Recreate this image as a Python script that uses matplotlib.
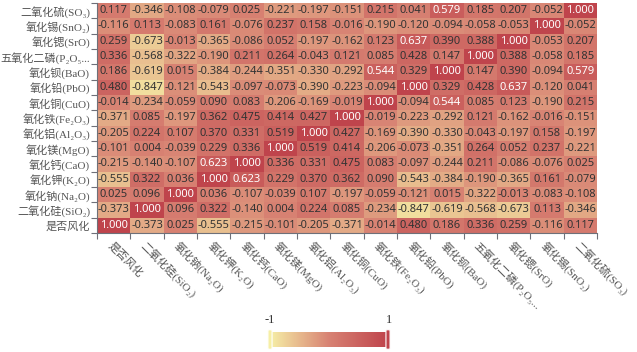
import numpy as np
import matplotlib
matplotlib.use("Agg")
import matplotlib.pyplot as plt
from matplotlib.colors import LinearSegmentedColormap
from matplotlib.patches import FancyBboxPatch

# row labels, bottom to top
row_labels = ['是否风化', '二氧化硅(SiO₂)', '氧化钠(Na₂O)', '氧化钾(K₂O)', '氧化钙(CaO)',
              '氧化镁(MgO)', '氧化铝(Al₂O₃)', '氧化铁(Fe₂O₃)', '氧化铜(CuO)', '氧化铅(PbO)',
              '氧化钡(BaO)', '五氧化二磷(P₂O₅...', '氧化锶(SrO)', '氧化锡(SnO₂)', '二氧化硫(SO₃)']

# column labels, left to right
col_labels = ['是否风化', '二氧化硅(SiO₂)', '氧化钠(Na₂O)', '氧化钾(K₂O)', '氧化钙(CaO)',
              '氧化镁(MgO)', '氧化铝(Al₂O₃)', '氧化铜(CuO)', '氧化铁(Fe₂O₃)', '氧化铅(PbO)',
              '氧化钡(BaO)', '五氧化二磷(P₂O₅...', '氧化锶(SrO)', '氧化锡(SnO₂)', '二氧化硫(SO₃)']

# correlation values, rows bottom to top
values = [
    [1.000, -0.373, 0.025, -0.555, -0.215, -0.101, -0.205, -0.371, -0.014, 0.480, 0.186, 0.336, 0.259, -0.116, 0.117],
    [-0.373, 1.000, 0.096, 0.322, -0.140, 0.004, 0.224, 0.085, -0.234, -0.847, -0.619, -0.568, -0.673, 0.113, -0.346],
    [0.025, 0.096, 1.000, 0.036, -0.107, -0.039, 0.107, -0.197, -0.059, -0.121, 0.015, -0.322, -0.013, -0.083, -0.108],
    [-0.555, 0.322, 0.036, 1.000, 0.623, 0.229, 0.370, 0.362, 0.090, -0.543, -0.384, -0.190, -0.365, 0.161, -0.079],
    [-0.215, -0.140, -0.107, 0.623, 1.000, 0.336, 0.331, 0.475, 0.083, -0.097, -0.244, 0.211, -0.086, -0.076, 0.025],
    [-0.101, 0.004, -0.039, 0.229, 0.336, 1.000, 0.519, 0.414, -0.206, -0.073, -0.351, 0.264, 0.052, 0.237, -0.221],
    [-0.205, 0.224, 0.107, 0.370, 0.331, 0.519, 1.000, 0.427, -0.169, -0.390, -0.330, -0.043, -0.197, 0.158, -0.197],
    [-0.371, 0.085, -0.197, 0.362, 0.475, 0.414, 0.427, 1.000, -0.019, -0.223, -0.292, 0.121, -0.162, -0.016, -0.151],
    [-0.014, -0.234, -0.059, 0.090, 0.083, -0.206, -0.169, -0.019, 1.000, -0.094, 0.544, 0.085, 0.123, -0.190, 0.215],
    [0.480, -0.847, -0.121, -0.543, -0.097, -0.073, -0.390, -0.223, -0.094, 1.000, 0.329, 0.428, 0.637, -0.120, 0.041],
    [0.186, -0.619, 0.015, -0.384, -0.244, -0.351, -0.330, -0.292, 0.544, 0.329, 1.000, 0.147, 0.390, -0.094, 0.579],
    [0.336, -0.568, -0.322, -0.190, 0.211, 0.264, -0.043, 0.121, 0.085, 0.428, 0.147, 1.000, 0.388, -0.058, 0.185],
    [0.259, -0.673, -0.013, -0.365, -0.086, 0.052, -0.197, -0.162, 0.123, 0.637, 0.390, 0.388, 1.000, -0.053, 0.207],
    [-0.116, 0.113, -0.083, 0.161, -0.076, 0.237, 0.158, -0.016, -0.190, -0.120, -0.094, -0.058, -0.053, 1.000, -0.052],
    [0.117, -0.346, -0.108, -0.079, 0.025, -0.221, -0.197, -0.151, 0.215, 0.041, 0.579, 0.185, 0.207, -0.052, 1.000],
]

cmap = LinearSegmentedColormap.from_list('warm', ['#f6efa6', '#d88273', '#bf444c'])
label_font = ['Liberation Serif', 'DejaVu Serif', 'Noto Sans CJK SC']

data = np.array(values)
n = data.shape[0]

fig = plt.figure(figsize=(6.37, 3.52), dpi=100)
ax = fig.add_axes([97 / 637, 1 - 233 / 352, 500 / 637, 230 / 352])
ax.imshow(data, cmap=cmap, vmin=-1, vmax=1, origin='lower', aspect='auto',
          interpolation='nearest')

for i in range(n):
    for j in range(n):
        v = data[i, j]
        ax.text(j, i, f'{v:.3f}', ha='center', va='center', fontsize=8,
                family='Noto Sans', color='white' if v > 0.53 else '#333333')

ax.set_xticks(np.arange(n))
ax.set_xticklabels(col_labels, rotation=-45, ha='left', va='top',
                   rotation_mode='anchor', family=label_font, fontsize=8, color='#555555')
ax.set_yticks(np.arange(n))
ax.set_yticklabels(row_labels, family=label_font, fontsize=8, color='#555555')
ax.tick_params(which='major', length=0, pad=5)
ax.set_xticks(np.arange(-0.5, n, 1), minor=True)
ax.set_yticks(np.arange(-0.5, n, 1), minor=True)
ax.tick_params(which='minor', length=4, color='#6e7079', width=0.8)
for side in ['top', 'right']:
    ax.spines[side].set_visible(False)
for side in ['left', 'bottom']:
    ax.spines[side].set_color('#6e7079')
    ax.spines[side].set_linewidth(0.8)

# continuous visual map at the bottom
cax = fig.add_axes([270 / 637, 1 - 347 / 352, 118 / 637, 15 / 352])
cax.imshow(np.linspace(-1, 1, 256)[None, :], cmap=cmap, aspect='auto',
           extent=[-1, 1, 0, 1])
cax.set_xlim(-1, 1)
cax.set_ylim(0, 1)
cax.axis('off')
for x0, c in [(-1, '#f6efa6'), (1, '#bf444c')]:
    cax.add_patch(FancyBboxPatch((x0 - 0.035, -0.15), 0.07, 1.3,
                                 boxstyle='round,pad=0,rounding_size=0.03',
                                 fc=c, ec='white', lw=0.8, clip_on=False))
fig.text(270 / 637, 1 - 320 / 352, '-1', ha='center', va='center',
         family='Liberation Serif', fontsize=9, color='#333333')
fig.text(389 / 637, 1 - 320 / 352, '1', ha='center', va='center',
         family='Liberation Serif', fontsize=9, color='#333333')

fig.savefig('out.png', dpi=100)
